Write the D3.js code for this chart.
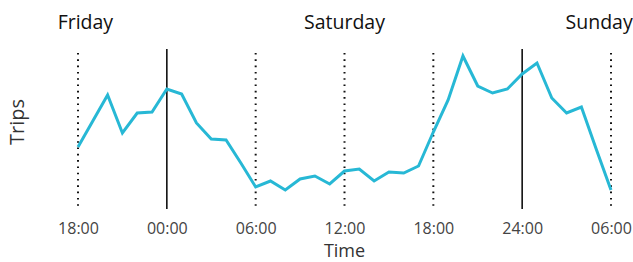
<!DOCTYPE html>
<html>
<head>
<meta charset="utf-8">
<script src="https://cdn.jsdelivr.net/npm/d3@7"></script>
<style>
  html, body { margin: 0; padding: 0; background: #fff; }
  svg { display: block; font-family: "Open Sans", sans-serif; }
</style>
</head>
<body>
<svg id="chart" width="633" height="262"></svg>
<script>
// hours since Friday 18:00
const hours = d3.range(0, 37)
const trips = [
  62, 88, 114, 76, 96, 97, 120, 115, 86, 70, 69, 46,
  22, 28, 19, 30, 33, 25, 38, 40, 28, 37, 36, 43,
  77, 109, 153, 123, 116, 120, 135, 146, 111, 96, 102, 60,
  19
]
const tickHours = [0, 6, 12, 18, 24, 30, 36]
const tickLabels = ['18:00', '00:00', '06:00', '12:00', '18:00', '24:00', '06:00']
const midnightHours = [6, 30]
const dayNames = ['Friday', 'Saturday', 'Sunday']
const dayHours = [0.5, 18, 35.2]

const svg = d3.select('#chart')
const plotTop = 49, plotBottom = 209

const x = d3.scaleLinear().domain([0, 36]).range([78, 611])
const y = d3.scaleLinear().domain([0, 160]).range([plotBottom, plotTop])

// guide lines: solid at midnight, dotted every 6h
svg.append('g').selectAll('line')
  .data(tickHours)
  .enter().append('line')
  .attr('x1', d => x(d)).attr('x2', d => x(d))
  .attr('y1', d => midnightHours.includes(d) ? plotTop : plotTop + 4)
  .attr('y2', plotBottom)
  .attr('stroke', '#111')
  .attr('stroke-width', d => midnightHours.includes(d) ? 1.6 : 2)
  .attr('stroke-dasharray', d => midnightHours.includes(d) ? null : '1.6,4.7')

const line = d3.line()
  .x((d, i) => x(hours[i]))
  .y(d => y(d))

svg.append('path')
  .attr('d', line(trips))
  .attr('fill', 'none')
  .attr('stroke', '#27b8d5')
  .attr('stroke-width', 3)

const xAxis = d3.axisBottom(x)
  .tickValues(tickHours)
  .tickFormat((d, i) => tickLabels[i])
  .tickSize(0)

const gx = svg.append('g')
  .attr('transform', `translate(0, ${plotBottom})`)
  .call(xAxis)
gx.select('.domain').remove()
gx.selectAll('text')
  .attr('y', 25)
  .attr('dy', 0)
  .attr('fill', '#444')
  .style('font-size', '16px')
  .style('font-family', '"Open Sans", sans-serif')

svg.append('g').selectAll('text')
  .data(dayNames)
  .enter().append('text')
  .attr('x', (d, i) => x(dayHours[i]))
  .attr('y', 29)
  .attr('text-anchor', 'middle')
  .attr('fill', '#111')
  .style('font-size', '19.5px')
  .text(d => d)

svg.append('text')
  .attr('x', x(18))
  .attr('y', 257)
  .attr('text-anchor', 'middle')
  .attr('fill', '#333')
  .style('font-size', '18px')
  .text('Time')

svg.append('text')
  .attr('transform', 'translate(24, 122) rotate(-90)')
  .attr('text-anchor', 'middle')
  .attr('fill', '#333')
  .style('font-size', '20px')
  .text('Trips')
</script>
</body>
</html>
